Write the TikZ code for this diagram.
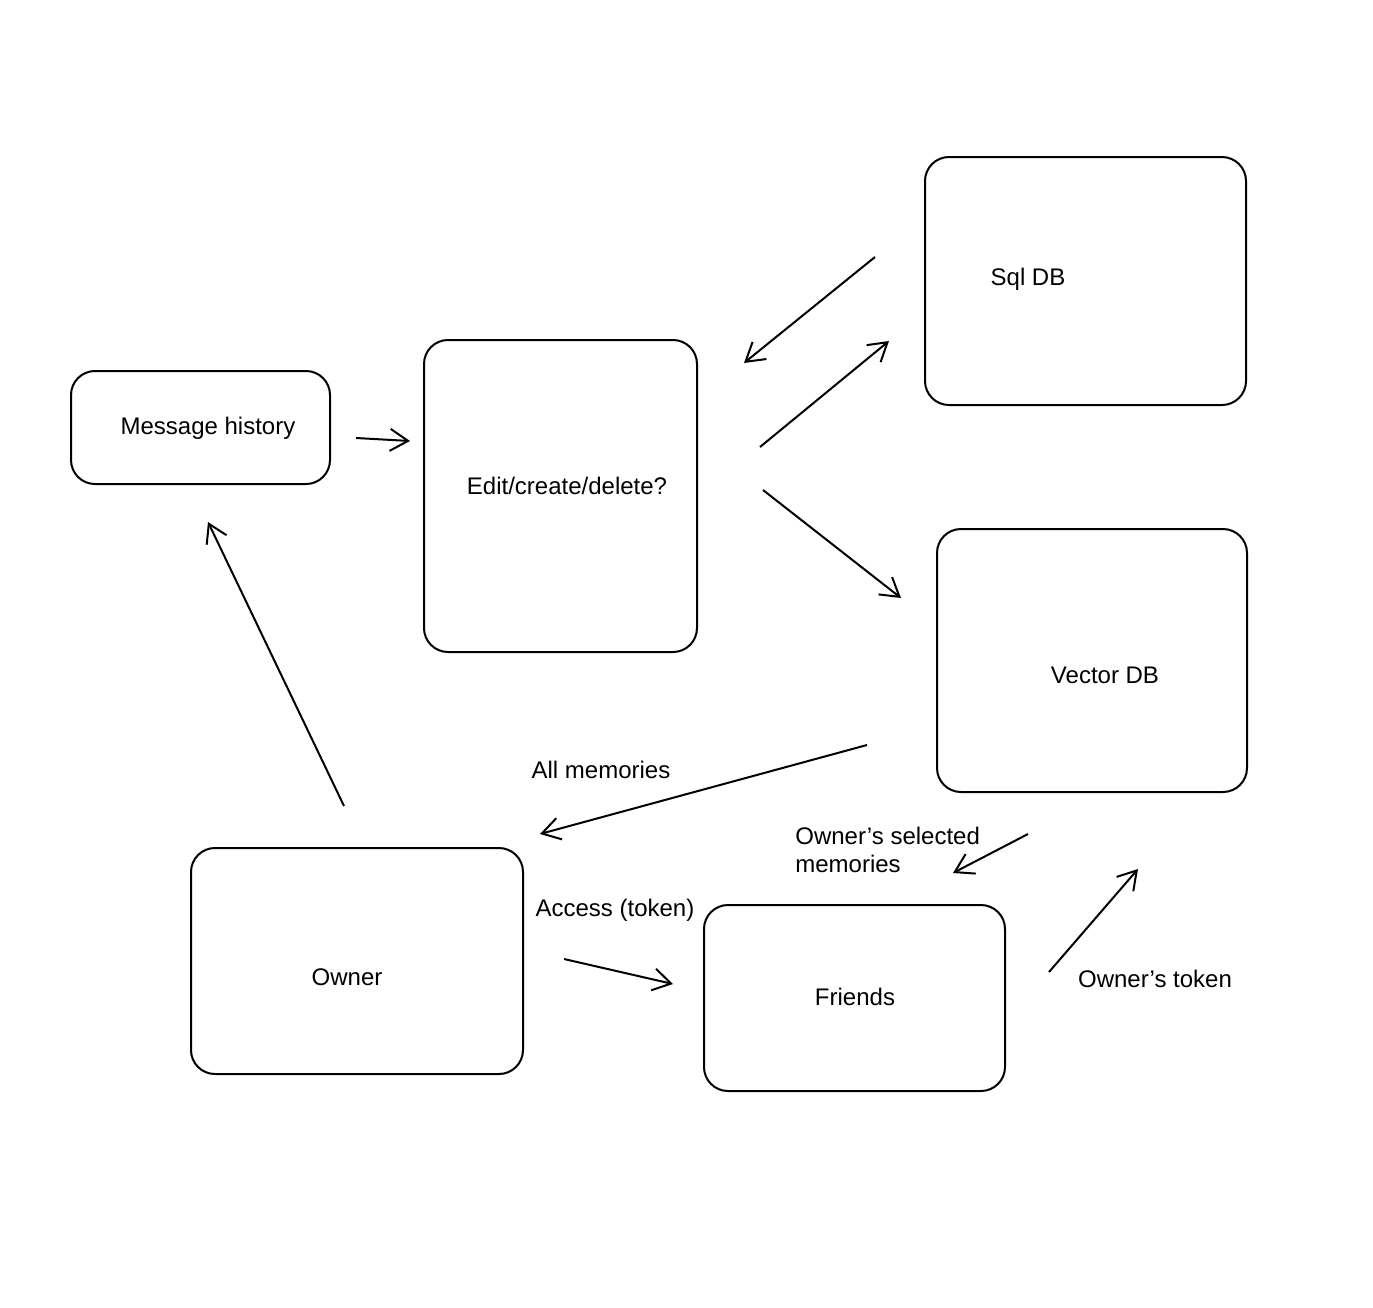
\documentclass[tikz,border=0pt]{standalone}
\usepackage{fontspec}
\setmainfont{Liberation Sans}
\usetikzlibrary{arrows.meta}
\begin{document}
\begin{tikzpicture}[x=0.5pt,y=-0.5pt,
  box/.style={draw, line width=1pt, rounded corners=12pt},
  lbl/.style={font=\fontsize{12}{14}\selectfont, inner sep=0pt},
  arr/.style={draw, line width=1pt, -{Straight Barb[length=9pt,width=11pt,line width=1pt]}}]
\useasboundingbox[fill=white] (0,0) rectangle (1373,1308);
% boxes
\draw[box] (71,371) rectangle (330,484);
\draw[box] (424,340) rectangle (697,652);
\draw[box] (925,157) rectangle (1246,405);
\draw[box] (937,529) rectangle (1247,792);
\draw[box] (191,848) rectangle (523,1074);
\draw[box] (704,905) rectangle (1005,1091);
% node labels
\node[lbl] (mh) at (208,428) {Message history};
\node[lbl] (ed) at (567,486) {Edit/create/delete?};
\node[lbl] (sql) at (1028,279) {Sql DB};
\node[lbl] (vec) at (1105,675) {Vector DB};
\node[lbl] (own) at (347,977) {Owner};
\node[lbl] (fr) at (855,997) {Friends};
% edge labels
\node[lbl] (l1) at (601,770) {All memories};
\node[lbl, anchor=west, align=left] (l2) at (795,850) {Owner's selected\\memories};
\node[lbl] (l3) at (615,910) {Access (token)};
\node[lbl] (l4) at (1155,979) {Owner's token};
% arrow ends
\coordinate (a1s) at (356,438); \coordinate (a1e) at (410,441);
\coordinate (a2s) at (875,257); \coordinate (a2e) at (744,363);
\coordinate (a3s) at (760,447); \coordinate (a3e) at (889,341);
\coordinate (a4s) at (763,490); \coordinate (a4e) at (901,598);
\coordinate (a5s) at (867,745); \coordinate (a5e) at (540,834);
\coordinate (a6s) at (344,806); \coordinate (a6e) at (208,522);
\coordinate (a7s) at (1028,834); \coordinate (a7e) at (953,873);
\coordinate (a8s) at (564,959); \coordinate (a8e) at (673,984);
\coordinate (a9s) at (1049,972); \coordinate (a9e) at (1138,869);
\draw[arr] (a1s) -- (a1e);
\draw[arr] (a2s) -- (a2e);
\draw[arr] (a3s) -- (a3e);
\draw[arr] (a4s) -- (a4e);
\draw[arr] (a5s) -- (a5e);
\draw[arr] (a6s) -- (a6e);
\draw[arr] (a7s) -- (a7e);
\draw[arr] (a8s) -- (a8e);
\draw[arr] (a9s) -- (a9e);
\end{tikzpicture}
\end{document}
